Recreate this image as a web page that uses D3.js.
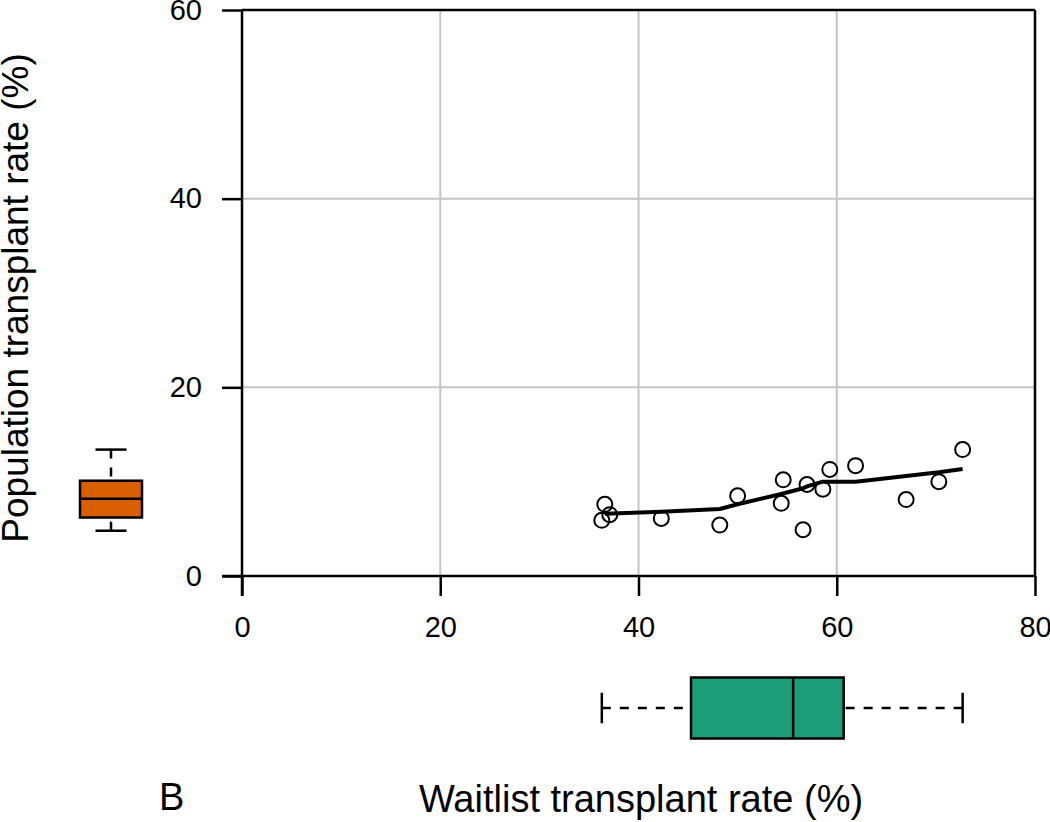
<!DOCTYPE html>
<html>
<head>
<meta charset="utf-8">
<script src="https://cdn.jsdelivr.net/npm/d3@7"></script>
<style>
    body { margin: 0; background: #fff; }
    svg { display: block; font-family: "Liberation Sans", Arial, sans-serif; }
</style>
</head>
<body>
<div id="chart"></div>
<script>
// Scatter data (waitlist vs population transplant rate, %)
const waitlist   = [36.3, 36.6, 37.1, 42.3, 48.2, 50.0, 54.4, 54.6, 56.6, 57.0, 58.6, 59.3, 61.9, 67.0, 70.3, 72.7];
const population = [5.9, 7.6, 6.5, 6.1, 5.4, 8.5, 7.7, 10.2, 4.9, 9.7, 9.2, 11.3, 11.7, 8.1, 10.0, 13.4];

// Smoothed (lowess) curve
const smoothX = [36.6, 42.3, 48.2, 50.0, 54.4, 56.6, 57.0, 58.6, 59.3, 61.9, 67.0, 70.3, 72.7];
const smoothY = [6.6, 6.8, 7.1, 7.6, 8.7, 9.3, 9.5, 10.0, 10.0, 10.0, 10.6, 11.0, 11.35];

// Boxplot stats: min, q1, median, q3, max
const waitlistBox   = [36.3, 45.3, 55.6, 60.7, 72.7];
const populationBox = [4.8, 6.2, 8.2, 10.1, 13.4];

// Axis ticks
const xTicks = [0, 20, 40, 60, 80];
const yTicks = [0, 20, 40, 60];

const W = 1050, H = 822;
const svg = d3.select('#chart').append('svg')
    .attr('width', W)
    .attr('height', H);

// Scales
const x = d3.scaleLinear().domain([0, 80]).range([242, 1035]);
const y = d3.scaleLinear().domain([0, 60]).range([576, 10]);

// Grid lines
svg.append('g')
    .selectAll('line')
    .data(xTicks.filter(d => d > 0 && d < 80))
    .enter().append('line')
    .attr('x1', d => x(d)).attr('x2', d => x(d))
    .attr('y1', y(0)).attr('y2', y(60))
    .attr('stroke', '#c4c4c4').attr('stroke-width', 2);

svg.append('g')
    .selectAll('line')
    .data(yTicks.filter(d => d > 0 && d < 60))
    .enter().append('line')
    .attr('x1', x(0)).attr('x2', x(80))
    .attr('y1', d => y(d)).attr('y2', d => y(d))
    .attr('stroke', '#c4c4c4').attr('stroke-width', 2);

// Top and right frame lines
svg.append('line')
    .attr('x1', x(0)).attr('x2', x(80))
    .attr('y1', y(60)).attr('y2', y(60))
    .attr('stroke', '#000').attr('stroke-width', 2.5);
svg.append('line')
    .attr('x1', x(80)).attr('x2', x(80))
    .attr('y1', y(60)).attr('y2', y(0))
    .attr('stroke', '#000').attr('stroke-width', 2.5);

// Axes
const xAxis = svg.append('g')
    .attr('transform', `translate(0,${y(0)})`)
    .call(d3.axisBottom(x).tickValues(xTicks).tickSize(20).tickSizeOuter(0).tickPadding(20));
const yAxis = svg.append('g')
    .attr('transform', `translate(${x(0)},0)`)
    .call(d3.axisLeft(y).tickValues(yTicks).tickSize(20).tickSizeOuter(0).tickPadding(20));

[xAxis, yAxis].forEach(g => {
    g.select('.domain').attr('stroke', '#000').attr('stroke-width', 2.5);
    g.selectAll('.tick line').attr('stroke', '#000').attr('stroke-width', 2.5);
    g.selectAll('.tick text')
        .style('font-size', '29px')
        .style('font-family', '"Liberation Sans", Arial, sans-serif')
        .attr('fill', '#000');
});
// extend the axis lines a bit past the origin like the reference
xAxis.select('.domain').attr('d', `M${x(0) - 20},0H${x(80)}`);
yAxis.select('.domain').attr('d', `M0,${y(60)}V${y(0) + 20}`);

// Points
svg.append('g')
    .selectAll('circle')
    .data(waitlist.map((d, i) => [d, population[i]]))
    .enter().append('circle')
    .attr('cx', d => x(d[0]))
    .attr('cy', d => y(d[1]))
    .attr('r', 7.5)
    .attr('fill', 'none')
    .attr('stroke', '#000')
    .attr('stroke-width', 2);

// Smoothed line
svg.append('path')
    .datum(smoothX.map((d, i) => [d, smoothY[i]]))
    .attr('d', d3.line().x(d => x(d[0])).y(d => y(d[1])))
    .attr('fill', 'none')
    .attr('stroke', '#000')
    .attr('stroke-width', 4)
    .attr('stroke-linejoin', 'round');

// Horizontal boxplot (waitlist) below the x axis
const bxY = 708, bxH = 61;
const gx = svg.append('g');
gx.selectAll('.whisker')
    .data([[waitlistBox[0], waitlistBox[1]], [waitlistBox[4], waitlistBox[3]]])
    .enter().append('line')
    .attr('x1', d => x(d[0])).attr('x2', d => x(d[1]))
    .attr('y1', bxY).attr('y2', bxY)
    .attr('stroke', '#000').attr('stroke-width', 2.5)
    .attr('stroke-dasharray', '9,9');
gx.selectAll('.cap')
    .data([waitlistBox[0], waitlistBox[4]])
    .enter().append('line')
    .attr('x1', d => x(d)).attr('x2', d => x(d))
    .attr('y1', bxY - bxH / 4).attr('y2', bxY + bxH / 4)
    .attr('stroke', '#000').attr('stroke-width', 2.5);
gx.append('rect')
    .attr('x', x(waitlistBox[1]))
    .attr('y', bxY - bxH / 2)
    .attr('width', x(waitlistBox[3]) - x(waitlistBox[1]))
    .attr('height', bxH)
    .attr('fill', '#1b9e77')
    .attr('stroke', '#000').attr('stroke-width', 2.5);
gx.append('line')
    .attr('x1', x(waitlistBox[2])).attr('x2', x(waitlistBox[2]))
    .attr('y1', bxY - bxH / 2).attr('y2', bxY + bxH / 2)
    .attr('stroke', '#000').attr('stroke-width', 2.5);

// Vertical boxplot (population) left of the y axis
const byX = 111, byW = 62;
const gy = svg.append('g');
gy.selectAll('.whisker')
    .data([[populationBox[0], populationBox[1]], [populationBox[4], populationBox[3]]])
    .enter().append('line')
    .attr('x1', byX).attr('x2', byX)
    .attr('y1', d => y(d[0])).attr('y2', d => y(d[1]))
    .attr('stroke', '#000').attr('stroke-width', 2.5)
    .attr('stroke-dasharray', '9,9');
gy.selectAll('.cap')
    .data([populationBox[0], populationBox[4]])
    .enter().append('line')
    .attr('x1', byX - byW / 4).attr('x2', byX + byW / 4)
    .attr('y1', d => y(d)).attr('y2', d => y(d))
    .attr('stroke', '#000').attr('stroke-width', 2.5);
gy.append('rect')
    .attr('x', byX - byW / 2)
    .attr('y', y(populationBox[3]))
    .attr('width', byW)
    .attr('height', y(populationBox[1]) - y(populationBox[3]))
    .attr('fill', '#d95f02')
    .attr('stroke', '#000').attr('stroke-width', 2.5);
gy.append('line')
    .attr('x1', byX - byW / 2).attr('x2', byX + byW / 2)
    .attr('y1', y(populationBox[2])).attr('y2', y(populationBox[2]))
    .attr('stroke', '#000').attr('stroke-width', 2.5);

// Axis titles
svg.append('text')
    .attr('x', 641)
    .attr('y', 812)
    .attr('text-anchor', 'middle')
    .style('font-size', '38px')
    .text('Waitlist transplant rate (%)');

svg.append('text')
    .attr('transform', 'translate(28,298) rotate(-90)')
    .attr('text-anchor', 'middle')
    .style('font-size', '37px')
    .text('Population transplant rate (%)');

// Panel letter
svg.append('text')
    .attr('x', 159)
    .attr('y', 810)
    .style('font-size', '38px')
    .text('B');
</script>
</body>
</html>
